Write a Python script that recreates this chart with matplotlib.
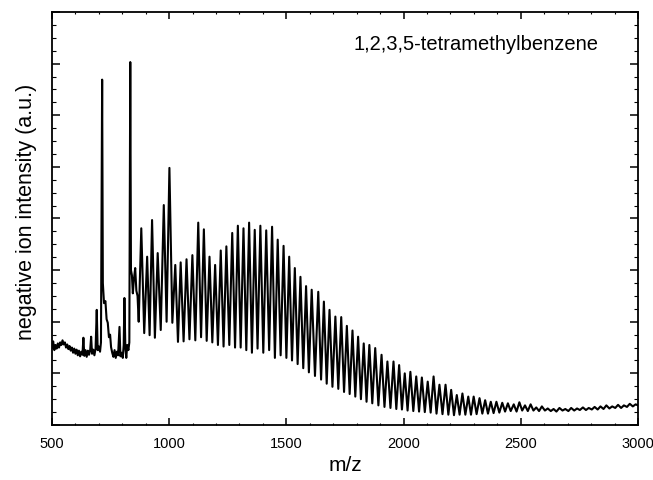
import matplotlib
matplotlib.use('Agg')
import matplotlib.pyplot as plt
import matplotlib.transforms as mtransforms
import numpy as np
from matplotlib.ticker import MultipleLocator

plt.rcParams.update({'font.family'       : 'Liberation Sans',
                     'xtick.direction'   : 'in',
                     'ytick.direction'   : 'in',
                     'xtick.top'         : True,
                     'ytick.right'       : True,
                     'axes.linewidth'    : 1.3,
                     'xtick.major.width' : 1.1,
                     'ytick.major.width' : 1.1,
                     'xtick.minor.width' : 0.8,
                     'ytick.minor.width' : 0.8,
                     'xtick.major.size'  : 5,
                     'ytick.major.size'  : 5.5,
                     'ytick.minor.size'  : 3,
                     'xtick.minor.size'  : 1.5,
                    })

### DATA
# baseline + C60 / C70 region
low_mz = [500, 505, 510, 515, 520, 525, 530, 535, 540, 545, 550, 555, 560, 565,
          570, 575, 580, 585, 590, 595, 600, 605, 610, 615, 620, 625, 630, 634,
          638, 643, 648, 653, 658, 663, 667, 671, 676, 681, 686, 691, 695, 700,
          705, 709, 714, 717, 722, 728, 733, 738, 743, 748, 752, 757, 762, 767,
          772, 777, 782, 788, 792, 797, 802, 806, 809, 813, 817, 821, 826, 830,
          834, 837, 841, 845, 849, 855, 860, 865, 870]
low_int = [1.50, 1.62, 1.45, 1.55, 1.48, 1.58, 1.50, 1.60, 1.55, 1.64, 1.56, 1.60, 1.50, 1.56,
           1.47, 1.53, 1.44, 1.50, 1.40, 1.48, 1.38, 1.46, 1.35, 1.44, 1.33, 1.42, 1.36, 1.69,
           1.34, 1.45, 1.32, 1.44, 1.36, 1.45, 1.71, 1.38, 1.46, 1.35, 1.48, 2.23, 1.45, 1.52,
           1.42, 1.60, 6.69, 2.75, 2.36, 2.40, 2.05, 1.98, 1.70, 1.75, 1.51, 1.40, 1.32, 1.45,
           1.30, 1.42, 1.35, 1.90, 1.33, 1.40, 1.30, 1.55, 2.46, 1.50, 1.30, 1.55, 1.45, 1.60,
           7.03, 3.00, 2.90, 2.55, 2.80, 3.04, 2.60, 2.50, 2.00]

# cluster comb: peak positions, peak tops, valley between neighbours
comb_mz = [881, 906, 927, 951, 977, 1001, 1026, 1049, 1074, 1099, 1124, 1148, 1172,
           1196, 1220, 1244, 1269, 1293, 1317, 1341, 1365, 1389, 1414, 1439, 1463,
           1488, 1512, 1536, 1560, 1584, 1608, 1636, 1660, 1684, 1709, 1734, 1758,
           1782, 1806, 1830, 1854, 1879, 1906, 1931, 1957, 1981, 2005, 2029, 2054,
           2078, 2103, 2128, 2153, 2179, 2203, 2227, 2251, 2276, 2299, 2324, 2348,
           2372, 2396, 2421]
comb_top = [3.81, 3.26, 3.97, 3.33, 4.26, 4.98, 3.10, 3.15, 3.21, 3.29, 3.92, 3.79, 3.26,
            3.10, 3.38, 3.46, 3.72, 3.86, 3.81, 3.92, 3.78, 3.86, 3.77, 3.84, 3.59,
            3.47, 3.26, 3.04, 2.87, 2.69, 2.62, 2.58, 2.39, 2.23, 2.10, 2.09, 1.92,
            1.83, 1.71, 1.58, 1.55, 1.49, 1.36, 1.23, 1.23, 1.16, 1.00, 1.03, 0.94,
            0.92, 0.84, 0.94, 0.78, 0.78, 0.68, 0.58, 0.61, 0.55, 0.55, 0.52, 0.48,
            0.45, 0.45, 0.43]
comb_valley = [1.78, 1.74, 1.69, 1.84, 2.00, 1.98, 1.61, 1.62, 1.66, 1.64, 1.70, 1.63,
               1.60, 1.55, 1.52, 1.55, 1.50, 1.50, 1.45, 1.40, 1.48, 1.40, 1.45, 1.30,
               1.35, 1.30, 1.25, 1.18, 1.10, 1.02, 0.95, 0.88, 0.80, 0.74, 0.70, 0.64,
               0.60, 0.55, 0.50, 0.45, 0.42, 0.38, 0.35, 0.33, 0.31, 0.30, 0.28, 0.27,
               0.26, 0.25, 0.24, 0.22, 0.21, 0.20, 0.19, 0.20, 0.20, 0.20, 0.21, 0.22,
               0.22, 0.23, 0.24]

# high mass tail (noise)
tail_mz = [2433, 2445, 2457, 2470, 2482, 2494, 2506, 2518, 2530, 2542, 2554, 2566,
           2578, 2590, 2603, 2615, 2628, 2640, 2652, 2665, 2678, 2690, 2703, 2715,
           2728, 2740, 2752, 2765, 2778, 2790, 2803, 2815, 2828, 2840, 2853, 2865,
           2878, 2890, 2903, 2915, 2928, 2940, 2953, 2965, 2978, 2990, 3000]
tail_int = [0.26, 0.42, 0.27, 0.40, 0.26, 0.44, 0.28, 0.38, 0.27, 0.40, 0.28, 0.34,
            0.27, 0.36, 0.28, 0.32, 0.27, 0.31, 0.26, 0.33, 0.28, 0.31, 0.27, 0.33,
            0.28, 0.32, 0.29, 0.34, 0.29, 0.33, 0.30, 0.35, 0.30, 0.36, 0.31, 0.38,
            0.32, 0.36, 0.33, 0.39, 0.33, 0.38, 0.35, 0.41, 0.36, 0.40, 0.38]

# stitch the trace together: low region, then peak/valley alternating, then tail
mz = list(low_mz)
inten = list(low_int)
for i in range(len(comb_mz)):
    if i > 0:
        mz.append((comb_mz[i-1] + comb_mz[i]) / 2)
        inten.append(comb_valley[i-1])
    mz.append(comb_mz[i])
    inten.append(comb_top[i])
mz += tail_mz
inten += tail_int

fig = plt.figure(figsize=(6.53, 4.80), dpi=100)
ax = fig.add_axes([0.0796, 0.1146, 0.8974, 0.8604])
ax.plot(mz, inten, color='k', lw=1.5)

ax.set_xlim(500, 3000)
ax.set_ylim(0, 8)
ax.xaxis.set_major_locator(MultipleLocator(500))
ax.xaxis.set_minor_locator(MultipleLocator(100))
ax.yaxis.set_major_locator(MultipleLocator(1))
ax.yaxis.set_minor_locator(MultipleLocator(0.25))
ax.tick_params(axis='x', which='both', labelsize=10.5, pad=9)
ax.tick_params(axis='y', which='both', labelleft=False)

ax.set_xlabel('m/z', fontsize=15, va='top')
ax.xaxis.set_label_coords(0.5, -0.075)
ax.set_ylabel('negative ion intensity (a.u.)', fontsize=15.5)
ax.yaxis.set_label_coords(-0.026, 0.517)

ax.text(0.932, 0.908, '1,2,3,5-tetramethylbenzene', transform=ax.transAxes,
        ha='right', va='baseline', fontsize=14.5)

# nudge the last tick label so it stays inside the figure
fig.canvas.draw()
last = ax.get_xticklabels()[-1]
last.set_transform(last.get_transform() +
                   mtransforms.ScaledTranslation(-3/100, 0, fig.dpi_scale_trans))

plt.savefig('out.png', dpi=100)
